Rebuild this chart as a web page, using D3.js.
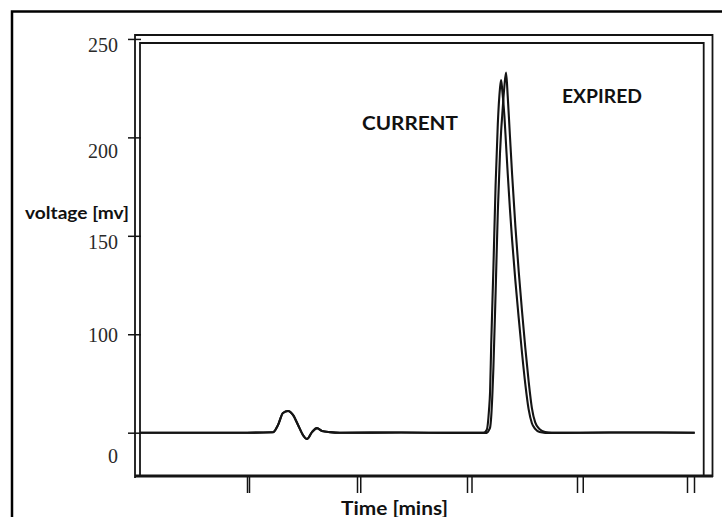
<!DOCTYPE html>
<html>
<head>
<meta charset="utf-8">
<script src="https://cdn.jsdelivr.net/npm/d3@7"></script>
<style>
  body { margin: 0; background: #fff; }
  svg { display: block; }
</style>
</head>
<body>
<div id="chart"></div>
<script>
// time in minutes (shared by both traces)
const times = [0.03, 1.0, 1.236, 1.282, 1.327, 1.373, 1.418, 1.464, 1.509, 1.545, 1.591, 1.636, 1.682, 1.755, 1.845,
  2.4, 2.9, 3.15, 3.18, 3.2, 3.21, 3.22, 3.24, 3.26, 3.28, 3.3, 3.31, 3.32, 3.34, 3.355, 3.37, 3.39, 3.41,
  3.44, 3.47, 3.5, 3.53, 3.56, 3.59, 3.62, 3.66, 3.71, 3.77, 4.3, 5.07];

// voltage [mv]
const currentMv = [50, 50, 50.2, 53.9, 60, 61, 59, 53.9, 48.8, 46.8, 50.3, 52.3, 50.9, 50.3, 50,
  50.1, 49.9, 49.9, 51.5, 61.5, 71, 94.5, 133.6, 175.8, 206.8, 225, 229.1, 224.3, 210.9, 196.3, 181.8, 163.8, 147.9,
  127, 108.3, 90.6, 74.7, 62, 54.8, 51.9, 50.3, 49.9, 49.9, 50.1, 50];
const expiredMv = [50, 50, 50.2, 53.9, 60, 61, 59, 53.9, 48.8, 46.8, 50.3, 52.3, 50.9, 50.3, 50,
  50.1, 49.9, 49.9, 49.9, 51.4, 52.6, 58, 83, 121, 162, 192, 203, 211, 226, 232.9, 221.1, 201.1, 181.3,
  154.7, 132, 111.8, 93.1, 76.3, 62.5, 55.2, 51.8, 50.3, 49.9, 50.1, 50];

const yTicks = [250, 200, 150, 100, 50];
const yLabels = ["250", "200", "150", "100", "0"];
const xTicks = [1, 2, 3, 4, 5];

const seriesNames = ["CURRENT", "EXPIRED"];

const W = 722, H = 517;
const ink = "#141414";

const svg = d3.select("#chart").append("svg")
  .attr("width", W)
  .attr("height", H);

svg.append("rect").attr("width", W).attr("height", H).attr("fill", "#fff");

// outer picture border (runs off the right and bottom)
svg.append("rect")
  .attr("x", 12).attr("y", 11.5)
  .attr("width", 760).attr("height", 560)
  .attr("fill", "none")
  .attr("stroke", "#000")
  .attr("stroke-width", 2.5);

// scales: the two overlaid plots have slightly different x frames
const y = d3.scaleLinear().domain([28, 252]).range([476, 35]);
const xA = d3.scaleLinear().domain([0, 5]).range([137, 687]);
const xB = d3.scaleLinear().domain([0, 5]).range([137.75, 694]);

// two plot frames
svg.append("path")
  .attr("d", "M135,478V35H712.5V477")
  .attr("fill", "none").attr("stroke", ink).attr("stroke-width", 1.8);
svg.append("path")
  .attr("d", "M140,476V43H703.7V477")
  .attr("fill", "none").attr("stroke", ink).attr("stroke-width", 1.8);
svg.append("line")
  .attr("x1", 135).attr("x2", 713).attr("y1", 476).attr("y2", 476)
  .attr("stroke", ink).attr("stroke-width", 2.8);

// x ticks (unlabelled), one set per frame
[xA, xB].forEach((sc) => {
  const g = svg.append("g")
    .attr("transform", "translate(0,476)")
    .call(d3.axisBottom(sc).tickValues(xTicks).tickSize(17).tickFormat(""));
  g.select(".domain").remove();
  g.selectAll(".tick line").attr("stroke", ink).attr("stroke-width", 1.5);
});

// y axis
const labelDy = [13, 20, 13, 7, 30];
const yAxis = svg.append("g")
  .attr("transform", "translate(141,0)")
  .call(d3.axisLeft(y).tickValues(yTicks).tickSize(13).tickPadding(10)
    .tickFormat((d, i) => yLabels[i]));
yAxis.select(".domain").remove();
yAxis.selectAll(".tick line").attr("stroke", ink).attr("stroke-width", 1.5);
yAxis.selectAll(".tick text")
  .attr("dy", null)
  .attr("y", (d, i) => labelDy[i])
  .attr("font-family", "'Liberation Serif', 'DejaVu Serif', serif")
  .attr("font-size", 20)
  .attr("fill", "#2a2a2a");

// traces
const line = d3.line()
  .x((d, i) => xA(times[i]))
  .y((d) => y(d))
  .curve(d3.curveMonotoneX);

[currentMv, expiredMv].forEach((vals) => {
  svg.append("path")
    .datum(vals)
    .attr("d", line)
    .attr("fill", "none")
    .attr("stroke", ink)
    .attr("stroke-width", 2.1)
    .attr("stroke-linejoin", "round");
});

// text labels
const bold = (x, yy, txt, size, len) =>
  svg.append("text")
    .attr("x", x).attr("y", yy)
    .attr("font-family", "Lato, 'Open Sans', sans-serif")
    .attr("font-weight", "bold")
    .attr("font-size", size)
    .attr("fill", "#111")
    .attr("textLength", len)
    .attr("lengthAdjust", "spacingAndGlyphs")
    .text(txt);

bold(25, 219, "voltage [mv]", 17, 104);
bold(362, 129.5, seriesNames[0], 18, 96);
bold(562, 103, seriesNames[1], 18, 80);
bold(341, 515, "Time [mins]", 18, 107);
</script>
</body>
</html>
